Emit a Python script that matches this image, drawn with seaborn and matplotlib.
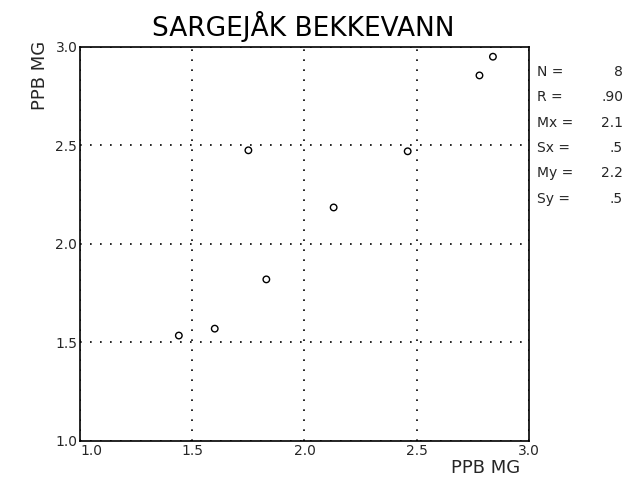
import matplotlib
matplotlib.use("Agg")
import matplotlib.pyplot as plt
import seaborn as sns
import pandas as pd

# data
x_vals = [1.44, 1.60, 1.75, 1.83, 2.13, 2.46, 2.78, 2.84]
y_vals = [1.535, 1.57, 2.475, 1.82, 2.185, 2.47, 2.855, 2.95]
ticks = [1.0, 1.5, 2.0, 2.5, 3.0]
tick_labels = ["1.0", "1.5", "2.0", "2.5", "3.0"]
stat_names = ["N =", "R =", "Mx =", "Sx =", "My =", "Sy ="]
stat_values = ["8", ".90", "2.1", ".5", "2.2", ".5"]

df = pd.DataFrame({"x": x_vals, "y": y_vals})

sns.set_style("white")
plt.rcParams["font.family"] = ["DejaVu Sans"]

fig = plt.figure(figsize=(6.41, 4.83), dpi=100)
ax = fig.add_axes([0.125, 0.087, 0.70, 0.816])

sns.scatterplot(data=df, x="x", y="y", ax=ax, marker="o", s=22,
                facecolor="none", edgecolor="black", linewidth=1.0, zorder=3)

ax.set_xlim(1.0, 3.0)
ax.set_ylim(1.0, 3.0)
ax.set_xticks(ticks)
ax.set_xticklabels(tick_labels, fontsize=10)
ax.set_yticks(ticks)
ax.set_yticklabels(tick_labels, fontsize=10)
ax.tick_params(length=0, pad=2)
# first x label sits just right of the corner, like the plotter output
ax.get_xticklabels()[0].set_ha("left")
ax.grid(True, linestyle=(0, (1, 5)), color="black", linewidth=1.2)
for sp in ax.spines.values():
    sp.set_color("black")
    sp.set_linewidth(1.2)
ax.set_xlabel("")
ax.set_ylabel("")

fig.text(0.473, 0.945, "SARGEJÅK BEKKEVANN", ha="center", va="center",
         fontsize=19, color="black")
fig.text(0.063, 0.843, "PPB MG", rotation=90, ha="center", va="center",
         fontsize=13)
fig.text(0.757, 0.032, "PPB MG", ha="center", va="center", fontsize=13)

y0 = 0.851
for i, (name, val) in enumerate(zip(stat_names, stat_values)):
    yy = y0 - i * 0.0525
    fig.text(0.838, yy, name, ha="left", va="center", fontsize=10)
    fig.text(0.972, yy, val, ha="right", va="center", fontsize=10)

fig.savefig("out.png", dpi=100)
